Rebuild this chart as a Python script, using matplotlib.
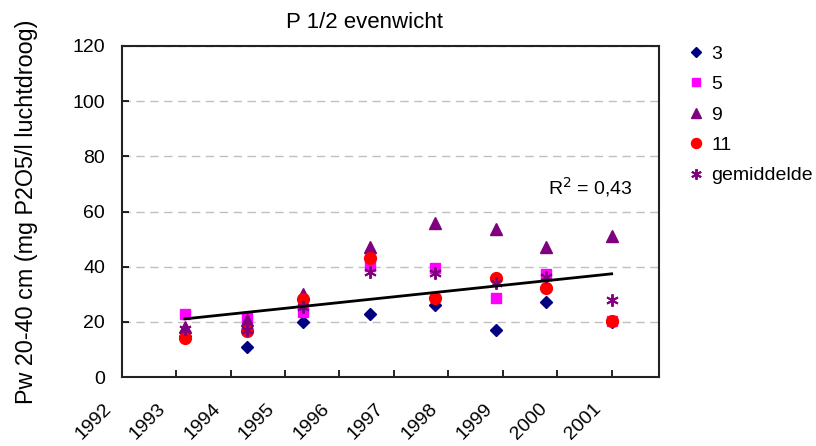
import numpy as np
import matplotlib
matplotlib.use("Agg")
import matplotlib.pyplot as plt
import matplotlib.transforms as mtransforms

plt.rcParams['font.family'] = ['Liberation Sans', 'DejaVu Sans']

# sampling moments (decimal years) and P-values per plot
years = [1993.16, 1994.30, 1995.33, 1996.56, 1997.76, 1998.88, 1999.79, 2001.0]
p3 = [15.0, 10.8, 20.1, 22.7, 26.0, 16.9, 27.3, 20.1]
p5 = [23.0, 21.5, 23.7, 40.3, 39.4, 28.5, 37.2, 20.2]
p9 = [18.0, 20.5, 30.2, 47.2, 56.0, 53.8, 47.3, 51.1]
p11 = [14.0, 16.5, 28.1, 43.2, 28.8, 36.0, 32.2, 20.2]
gem = [17.5, 17.1, 25.5, 38.1, 37.6, 34.2, 36.4, 27.8]
r2_text = 'R$^2$ = 0,43'

tick_years = list(range(1992, 2002))
y_ticks = [0, 20, 40, 60, 80, 100, 120]

fig = plt.figure(figsize=(8.16, 4.46), dpi=100)
ax = fig.add_axes([121.7 / 816, 1 - 377 / 446, (659 - 121.7) / 816, (377 - 46) / 446])

series = [
    (p3, '3', dict(marker='D', color='#000080', markersize=6.5)),
    (p5, '5', dict(marker='s', color='#ff00ff', markersize=7.5)),
    (p9, '9', dict(marker='^', color='#800080', markersize=8.5)),
    (p11, '11', dict(marker='o', color='#ff0000', markersize=8.5)),
    (gem, 'gemiddelde', dict(marker=(6, 2, 0), color='#800080', markersize=9,
                             markeredgewidth=1.4)),
]
for vals, lab, st in series:
    ax.plot(years, vals, linestyle='none', label=lab, zorder=3, **st)

# linear trend line through the averages
coef = np.polyfit(years, gem, 1)
ax.plot([years[0], years[-1]], np.polyval(coef, [years[0], years[-1]]),
        color='black', linewidth=2, zorder=4)
ax.text(590 / 816, 1 - 187 / 446, r2_text,
        transform=fig.transFigure, ha='center', va='center', fontsize=14)

ax.set_xlim(1992, 2001.87)
ax.set_ylim(0, 120)
ax.set_xticks(tick_years)
ax.set_yticks(y_ticks)
ax.set_xticklabels([str(y) for y in tick_years], rotation=45, ha='right', va='center',
                   rotation_mode='anchor')
ax.tick_params(axis='both', direction='in', length=5, width=1.2, labelsize=14)
ax.tick_params(axis='x', pad=21)
ax.tick_params(axis='y', pad=12)
shift = mtransforms.ScaledTranslation(-13 / 100, 0, fig.dpi_scale_trans)
for lbl in ax.get_xticklabels():
    lbl.set_transform(lbl.get_transform() + shift)
ax.yaxis.grid(True, color='#c0c0c0', linestyle=(0, (6, 4)), linewidth=1)
ax.set_axisbelow(True)
for sp in ax.spines.values():
    sp.set_linewidth(1.5)
    sp.set_color('#222222')

fig.text(365 / 816, 1 - 22 / 446, 'P 1/2 evenwicht', ha='center', va='center', fontsize=16)
fig.text(27 / 816, 1 - 211.5 / 446, 'Pw 20-40 cm (mg P2O5/l luchtdroog)', rotation=90,
         ha='center', va='center', fontsize=16.8)

fig.legend(loc='upper left', bbox_to_anchor=(688 / 816, 1 - 45 / 446), frameon=False,
           fontsize=14, handlelength=0.8, handletextpad=0.4, labelspacing=0.66,
           borderpad=0, borderaxespad=0, markerscale=0.85)

fig.savefig('out.png', dpi=100)
